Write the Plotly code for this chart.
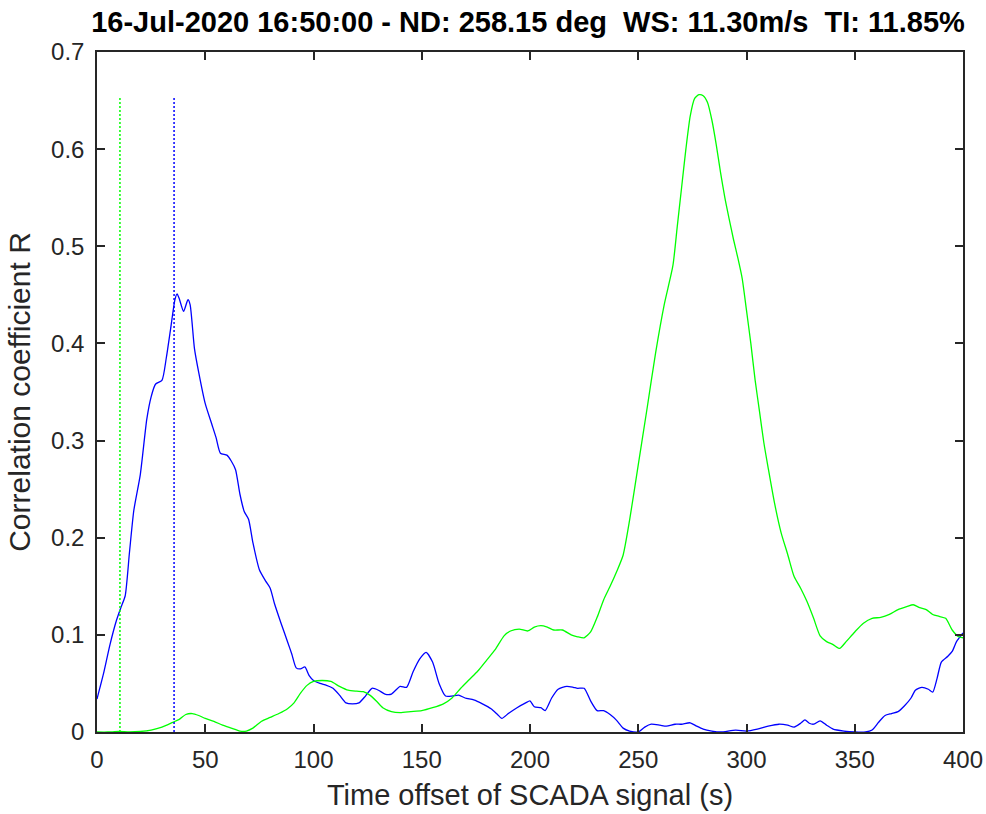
import plotly.graph_objects as go

title_text = "16-Jul-2020 16:50:00 - ND: 258.15 deg  WS: 11.30m/s  TI: 11.85%"
x_label = "Time offset of SCADA signal (s)"
y_label = "Correlation coefficient R"

blue_x = [0, 3, 6, 9, 11, 13, 15, 17, 20, 23, 25, 27, 30, 32, 34, 36, 37, 38, 40, 42, 43, 45, 47, 50, 53, 55, 57, 60, 62, 64, 66, 68, 70, 72, 75, 78, 80, 82, 85, 88, 90, 92, 94, 96, 98, 100, 103, 106, 109, 112, 115, 118, 121, 124, 127, 130, 133, 136, 140, 143, 146, 149, 152, 155, 158, 161, 164, 167, 170, 174, 178, 182, 185, 187, 190, 194, 198, 200, 202, 205, 207, 210, 213, 217, 220, 222, 225, 228, 231, 234, 237, 240, 243, 246, 250, 253, 256, 260, 263, 267, 270, 274, 277, 280, 284, 288, 295, 300, 305, 310, 315, 319, 322, 325, 327, 329, 331, 334, 337, 340, 345, 350, 355, 358, 361, 364, 367, 370, 373, 376, 378, 381, 384, 386, 388, 390, 393, 395, 397, 400]
blue_y = [0.034, 0.06, 0.09, 0.115, 0.128, 0.14, 0.185, 0.228, 0.265, 0.322, 0.345, 0.358, 0.362, 0.385, 0.415, 0.445, 0.451, 0.446, 0.433, 0.445, 0.44, 0.395, 0.37, 0.338, 0.317, 0.303, 0.287, 0.285, 0.279, 0.27, 0.245, 0.227, 0.219, 0.195, 0.167, 0.155, 0.148, 0.132, 0.112, 0.093, 0.08, 0.066, 0.065, 0.067, 0.058, 0.053, 0.05, 0.048, 0.045, 0.038, 0.03, 0.029, 0.03, 0.037, 0.045, 0.043, 0.039, 0.039, 0.047, 0.046, 0.062, 0.075, 0.082, 0.072, 0.05, 0.037, 0.037, 0.038, 0.035, 0.033, 0.029, 0.024, 0.018, 0.014, 0.019, 0.025, 0.03, 0.032, 0.026, 0.025, 0.022, 0.035, 0.044, 0.047, 0.046, 0.045, 0.045, 0.032, 0.022, 0.022, 0.018, 0.012, 0.004, 0.001, 0.0, 0.005, 0.008, 0.007, 0.006, 0.008, 0.008, 0.0095, 0.006, 0.003, 0.001, 0.0, 0.002, 0.001, 0.003, 0.006, 0.008, 0.007, 0.005, 0.009, 0.0125, 0.009, 0.008, 0.0115, 0.007, 0.003, 0.001, 0.0, 0.0, 0.002, 0.01, 0.017, 0.019, 0.021, 0.027, 0.035, 0.043, 0.046, 0.044, 0.041, 0.055, 0.072, 0.078, 0.083, 0.093, 0.102]

green_x = [0, 5, 10, 15, 20, 25, 30, 35, 38, 41, 44, 47, 50, 54, 58, 62, 66, 69, 72, 76, 80, 84, 88, 91, 94, 97, 100, 104, 108, 112, 116, 120, 123, 126, 129, 132, 136, 140, 145, 150, 155, 160, 164, 168, 172, 176, 180, 184, 188, 191, 195, 199, 202, 205, 208, 211, 215, 219, 222, 225, 228, 231, 234, 237, 240, 243, 246, 250, 254, 258, 262, 266, 268, 270, 272, 274, 276, 278, 280, 282, 284, 286, 288, 290, 292, 294, 296, 298, 300, 302, 304, 306, 308, 310, 313, 316, 319, 322, 325, 328, 331, 334, 337, 340, 343, 346, 350, 354, 358, 362, 366, 370, 374, 377, 380, 383, 386, 389, 392, 395, 398, 400]
green_y = [0.0, 0.0, 0.0005, 0.0, 0.0005, 0.002, 0.005, 0.01, 0.013, 0.018, 0.019, 0.017, 0.014, 0.011, 0.007, 0.004, 0.001, 0.001, 0.004, 0.011, 0.015, 0.019, 0.024, 0.03, 0.04, 0.048, 0.052, 0.053, 0.052, 0.047, 0.043, 0.042, 0.0415, 0.038, 0.032, 0.025, 0.021, 0.02, 0.021, 0.022, 0.025, 0.029, 0.035, 0.045, 0.054, 0.063, 0.074, 0.085, 0.099, 0.104, 0.106, 0.104, 0.108, 0.1095, 0.108, 0.105, 0.105, 0.1, 0.098, 0.097, 0.103, 0.118, 0.136, 0.15, 0.165, 0.182, 0.218, 0.275, 0.332, 0.39, 0.44, 0.48, 0.52, 0.56, 0.6, 0.634, 0.652, 0.656, 0.655, 0.648, 0.63, 0.605, 0.576, 0.55, 0.528, 0.507, 0.488, 0.467, 0.434, 0.4, 0.362, 0.33, 0.298, 0.272, 0.235, 0.205, 0.183, 0.16, 0.148, 0.134, 0.117, 0.099, 0.093, 0.09, 0.086, 0.093, 0.103, 0.112, 0.117, 0.118, 0.121, 0.126, 0.129, 0.131, 0.128, 0.126, 0.121, 0.119, 0.117, 0.105, 0.098, 0.097]

# best-lag markers (vertical dotted lines)
green_lag = 10.6
blue_lag = 35.6
marker_top = 0.653

x_ticks = [0, 50, 100, 150, 200, 250, 300, 350, 400]
y_ticks = [0, 0.1, 0.2, 0.3, 0.4, 0.5, 0.6, 0.7]
y_tick_text = ["0", "0.1", "0.2", "0.3", "0.4", "0.5", "0.6", "0.7"]

BLUE = "#0000ff"
GREEN = "#00ff00"
AX = "#262626"
FONT = "Liberation Sans, Arial, sans-serif"

fig = go.Figure()
fig.add_trace(go.Scatter(x=blue_x, y=blue_y, mode="lines",
                         line=dict(color=BLUE, width=1.3, shape="spline", smoothing=0.6),
                         showlegend=False))
fig.add_trace(go.Scatter(x=green_x, y=green_y, mode="lines",
                         line=dict(color=GREEN, width=1.3, shape="spline", smoothing=0.6),
                         showlegend=False))
fig.add_trace(go.Scatter(x=[green_lag, green_lag], y=[0, marker_top], mode="lines",
                         line=dict(color=GREEN, width=1.5, dash="2px,2px"), showlegend=False))
fig.add_trace(go.Scatter(x=[blue_lag, blue_lag], y=[0, marker_top], mode="lines",
                         line=dict(color=BLUE, width=1.5, dash="2px,2px"), showlegend=False))

axis_common = dict(showgrid=False, zeroline=False, showline=True, linecolor=AX, linewidth=1.5,
                   mirror="allticks", ticks="inside", ticklen=8, tickcolor=AX, tickwidth=1.5,
                   ticklabeloverflow="allow", automargin=False,
                   tickfont=dict(family=FONT, size=24, color=AX))

fig.update_layout(
    width=986, height=814,
    margin=dict(l=97, r=23, t=52, b=82),
    paper_bgcolor="white", plot_bgcolor="white",
    title=dict(text="<b>" + title_text + "</b>", x=0.5355, xanchor="center",
               y=0.986, yanchor="top",
               font=dict(family=FONT, size=29, color="black")),
    xaxis=dict(range=[0, 400], tickvals=x_ticks, ticklabelstandoff=5,
               title=dict(text=x_label, font=dict(family=FONT, size=29, color=AX), standoff=13),
               **axis_common),
    yaxis=dict(range=[0, 0.7], tickvals=y_ticks, ticktext=y_tick_text, ticklabelstandoff=6,
               title=dict(text=y_label, font=dict(family=FONT, size=30, color=AX), standoff=12),
               **axis_common),
)

fig.write_html("out.html")
